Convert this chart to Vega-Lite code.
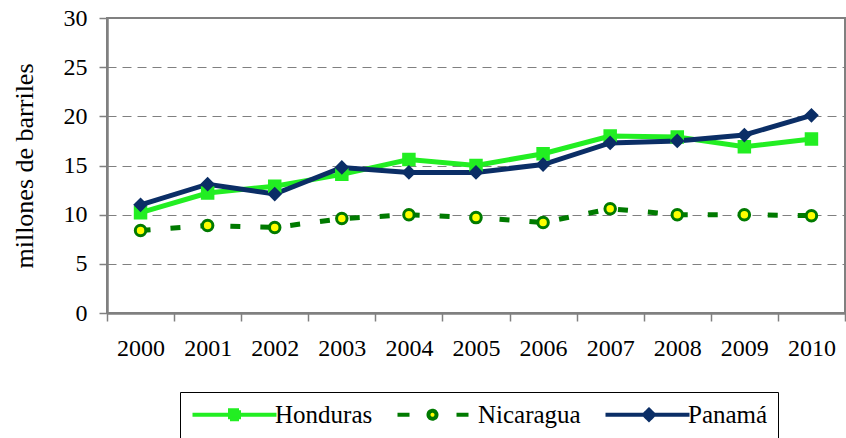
{
  "$schema": "https://vega.github.io/schema/vega-lite/v6.json",
  "width": 738,
  "height": 295,
  "autosize": "none",
  "padding": {"left": 107, "top": 18, "right": 1, "bottom": 125},
  "background": "white",
  "config": {
    "view": {"stroke": "#808080", "strokeWidth": 2},
    "font": "Liberation Serif, Times New Roman, serif"
  },
  "data": {
    "values": [
      {"year": "2000", "country": "Honduras", "value": 10.2},
      {"year": "2001", "country": "Honduras", "value": 12.2},
      {"year": "2002", "country": "Honduras", "value": 12.9},
      {"year": "2003", "country": "Honduras", "value": 14.1},
      {"year": "2004", "country": "Honduras", "value": 15.6},
      {"year": "2005", "country": "Honduras", "value": 15.0},
      {"year": "2006", "country": "Honduras", "value": 16.2},
      {"year": "2007", "country": "Honduras", "value": 18.0},
      {"year": "2008", "country": "Honduras", "value": 17.9},
      {"year": "2009", "country": "Honduras", "value": 16.9},
      {"year": "2010", "country": "Honduras", "value": 17.7},
      {"year": "2000", "country": "Nicaragua", "value": 8.4},
      {"year": "2001", "country": "Nicaragua", "value": 8.9},
      {"year": "2002", "country": "Nicaragua", "value": 8.7},
      {"year": "2003", "country": "Nicaragua", "value": 9.6},
      {"year": "2004", "country": "Nicaragua", "value": 10.0},
      {"year": "2005", "country": "Nicaragua", "value": 9.7},
      {"year": "2006", "country": "Nicaragua", "value": 9.2},
      {"year": "2007", "country": "Nicaragua", "value": 10.6},
      {"year": "2008", "country": "Nicaragua", "value": 10.0},
      {"year": "2009", "country": "Nicaragua", "value": 10.0},
      {"year": "2010", "country": "Nicaragua", "value": 9.9},
      {"year": "2000", "country": "Panamá", "value": 11.0},
      {"year": "2001", "country": "Panamá", "value": 13.1},
      {"year": "2002", "country": "Panamá", "value": 12.1},
      {"year": "2003", "country": "Panamá", "value": 14.8},
      {"year": "2004", "country": "Panamá", "value": 14.3},
      {"year": "2005", "country": "Panamá", "value": 14.3},
      {"year": "2006", "country": "Panamá", "value": 15.1},
      {"year": "2007", "country": "Panamá", "value": 17.3},
      {"year": "2008", "country": "Panamá", "value": 17.5},
      {"year": "2009", "country": "Panamá", "value": 18.1},
      {"year": "2010", "country": "Panamá", "value": 20.1}
    ]
  },
  "encoding": {
    "x": {
      "field": "year",
      "type": "ordinal",
      "bandPosition": 0.5,
      "scale": {"type": "band", "paddingInner": 0, "paddingOuter": 0},
      "axis": {
        "title": null,
        "labelAngle": 0,
        "tickBand": "extent",
        "domainColor": "#808080",
        "domainWidth": 2.5,
        "tickColor": "#808080",
        "tickWidth": 1.5,
        "tickSize": 8,
        "labelFont": "Liberation Serif, Times New Roman, serif",
        "labelFontSize": 24,
        "labelColor": "black",
        "labelPadding": 15,
        "grid": false
      }
    },
    "y": {
      "field": "value",
      "type": "quantitative",
      "scale": {"domain": [0, 30], "nice": false},
      "axis": {
        "values": [0, 5, 10, 15, 20, 25, 30],
        "title": "millones de barriles",
        "titleFont": "Liberation Serif, Times New Roman, serif",
        "titleFontSize": 26,
        "titleFontWeight": "normal",
        "titleColor": "black",
        "titlePadding": 26,
        "labelFont": "Liberation Serif, Times New Roman, serif",
        "labelFontSize": 24,
        "labelColor": "black",
        "labelPadding": 12,
        "tickSize": 8,
        "tickColor": "#808080",
        "tickWidth": 1.5,
        "domainColor": "#808080",
        "domainWidth": 2.5,
        "grid": true,
        "gridColor": "#808080",
        "gridDash": [9, 6],
        "gridWidth": 1
      }
    }
  },
  "layer": [
    {
      "transform": [{"filter": "datum.country != 'Nicaragua'"}],
      "mark": {"type": "line", "strokeWidth": 5},
      "encoding": {
        "color": {
          "field": "country",
          "type": "nominal",
          "scale": {
            "domain": ["Honduras", "Nicaragua", "Panamá"],
            "range": ["#22EE22", "#007A00", "#0B2E66"]
          },
          "legend": {
            "title": null,
            "orient": "none",
            "legendX": 73,
            "legendY": 374,
            "direction": "horizontal",
            "columns": 3,
            "columnPadding": 16,
            "padding": 10,
            "fillColor": "white",
            "strokeColor": "black",
            "symbolSize": 400,
            "symbolStrokeWidth": 4,
            "labelOffset": 60,
            "labelFont": "Liberation Serif, Times New Roman, serif",
            "labelFontSize": 25,
            "labelColor": "black",
            "labelLimit": 0,
            "encode": {
              "symbols": {
                "update": {
                  "shape": {"signal": "datum.value == 'Honduras' ? 'M-1,0H7.4M2.75,-0.45H3.65V0.45H2.75Z' : datum.value == 'Nicaragua' ? 'M-0.8,0H0.4M5.1,0H6.3M3.1,0A0.4,0.4,0,1,1,2.3,0A0.4,0.4,0,1,1,3.1,0Z' : 'M-1,0H7.4M3.35,-0.5L3.85,0L3.35,0.5L2.85,0Z'"},
                  "fill": {"signal": "datum.value == 'Honduras' ? '#22EE22' : datum.value == 'Nicaragua' ? '#FFFF00' : '#0B2E66'"},
                  "strokeDash": {"value": [1, 0]},
                  "strokeWidth": {"value": 4},
                  "opacity": {"value": 1}
                }
              }
            }
          }
        }
      }
    },
    {
      "transform": [{"filter": "datum.country == 'Nicaragua'"}],
      "mark": {"type": "line", "strokeWidth": 5, "strokeDash": [10, 20]},
      "encoding": {
        "color": {"field": "country", "type": "nominal"}
      }
    },
    {
      "mark": {"type": "point", "filled": true, "opacity": 1, "strokeWidth": 3, "size": 110},
      "encoding": {
        "shape": {
          "field": "country",
          "type": "nominal",
          "scale": {
            "domain": ["Honduras", "Nicaragua", "Panamá"],
            "range": ["square", "circle", "diamond"]
          },
          "legend": null
        },
        "fill": {
          "field": "country",
          "type": "nominal",
          "scale": {
            "domain": ["Honduras", "Nicaragua", "Panamá"],
            "range": ["#22EE22", "#FFFF00", "#0B2E66"]
          },
          "legend": null
        },
        "stroke": {
          "field": "country",
          "type": "nominal",
          "scale": {
            "domain": ["Honduras", "Nicaragua", "Panamá"],
            "range": ["#22EE22", "#007A00", "#0B2E66"]
          },
          "legend": null
        }
      }
    }
  ],
  "resolve": {
    "scale": {"shape": "independent", "fill": "independent", "stroke": "independent"},
    "legend": {"shape": "independent", "fill": "independent", "stroke": "independent"}
  }
}
